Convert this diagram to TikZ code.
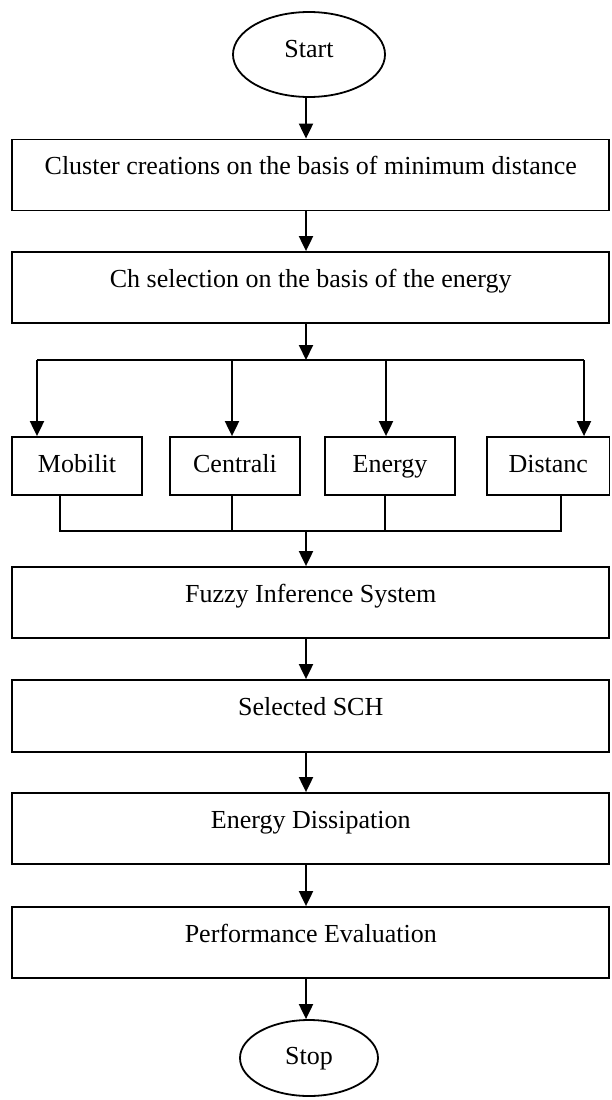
\documentclass[tikz,border=0pt]{standalone}
\usepackage{fontspec}
\setmainfont{Liberation Serif}
\usetikzlibrary{arrows.meta,shapes.geometric}
\begin{document}
\begin{tikzpicture}[x=1pt,y=-1pt,
  every node/.style={font=\fontsize{26}{30}\selectfont},
  wide/.style={draw,line width=1.8pt,rectangle,minimum width=597pt,minimum height=71pt,inner sep=0pt,text height=18pt,text depth=19pt},
  small/.style={draw,line width=1.8pt,rectangle,minimum height=58pt,inner sep=0pt,text height=18pt,text depth=6pt},
  term/.style={draw,line width=1.8pt,ellipse,inner sep=0pt,text height=18pt},
  arr/.style={line width=2pt,-{Triangle[width=14pt,length=15pt]}},
  joinline/.style={line width=1.3pt},
]
\useasboundingbox (0,0) rectangle (611,1100);
\coordinate (ax) at (306,0);
% terminals and boxes
\node[term,minimum width=152pt,minimum height=85pt,text depth=13pt] (start) at (309,54.5) {Start};
\node[wide] (b1) at (310.75,175) {Cluster creations on the basis of minimum distance};
\node[wide,minimum height=71pt] (b2) at (310.75,287.5) {Ch selection on the basis of the energy};
\node[small,minimum width=130pt] (mob) at (77,466) {Mobilit};
\node[small,minimum width=130pt] (cen) at (235,466) {Centrali};
\node[small,minimum width=130pt] (ene) at (390,466) {Energy};
\node[small,minimum width=122.5pt] (dis) at (548.25,466) {Distanc};
\node[wide] (fis) at (310.75,602.5) {Fuzzy Inference System};
\node[wide,minimum height=72pt] (sch) at (310.75,716) {Selected SCH};
\node[wide] (ed) at (310.75,828.5) {Energy Dissipation};
\node[wide] (pe) at (310.75,942.5) {Performance Evaluation};
\node[term,minimum width=138pt,minimum height=76pt,text depth=6pt] (stop) at (309,1058) {Stop};
% distribution and join points
\coordinate (dl) at (306,360);
\coordinate (d1) at (37,360);
\coordinate (d2) at (232,360);
\coordinate (d3) at (386,360);
\coordinate (d4) at (584,360);
\coordinate (j1) at (60,531);
\coordinate (j2) at (232,531);
\coordinate (j3) at (385,531);
\coordinate (j4) at (561,531);
% connectors
\draw[arr] (start.south -| ax) -- (b1.north -| ax);
\draw[arr] (b1.south -| ax) -- (b2.north -| ax);
\draw[arr] (b2.south -| ax) -- (dl);
\draw[line width=1.8pt] (d1) -- (d4);
\draw[arr] (d1) -- (d1 |- mob.north);
\draw[arr] (d2) -- (d2 |- cen.north);
\draw[arr] (d3) -- (d3 |- ene.north);
\draw[arr] (d4) -- (d4 |- dis.north);
\draw[joinline] (mob.south -| j1) -- (j1) -- (j4) -- (dis.south -| j4);
\draw[joinline] (cen.south -| j2) -- (j2);
\draw[joinline] (ene.south -| j3) -- (j3);
\draw[arr] (ax |- j1) -- (fis.north -| ax);
\draw[arr] (fis.south -| ax) -- (sch.north -| ax);
\draw[arr] (sch.south -| ax) -- (ed.north -| ax);
\draw[arr] (ed.south -| ax) -- (pe.north -| ax);
\draw[arr] (pe.south -| ax) -- (stop.north -| ax);
\end{tikzpicture}
\end{document}
